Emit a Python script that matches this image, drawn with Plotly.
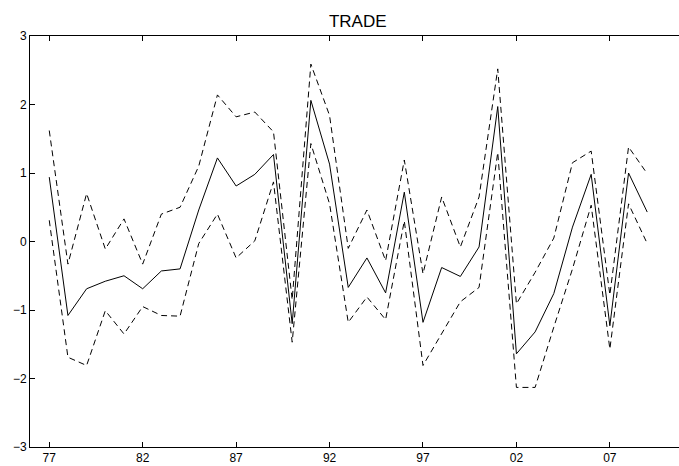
import plotly.graph_objects as go

years = list(range(77, 110))
mid = [0.94, -1.08, -0.69, -0.58, -0.50, -0.69, -0.43, -0.40, 0.46, 1.22, 0.81,
       0.98, 1.27, -1.20, 2.06, 1.13, -0.67, -0.24, -0.75, 0.72, -1.18, -0.38,
       -0.51, -0.08, 1.97, -1.64, -1.32, -0.76, 0.21, 0.98, -1.23, 1.00, 0.43]
upper = [1.62, -0.33, 0.70, -0.11, 0.33, -0.33, 0.40, 0.50, 1.10, 2.14, 1.82,
         1.89, 1.60, -0.85, 2.59, 1.84, -0.10, 0.46, -0.28, 1.19, -0.47, 0.65,
         -0.08, 0.65, 2.52, -0.91, -0.45, 0.05, 1.15, 1.32, -0.78, 1.38, 0.99]
lower = [0.31, -1.69, -1.81, -1.01, -1.35, -0.95, -1.08, -1.09, -0.03, 0.40, -0.24,
         0.01, 0.87, -1.47, 1.43, 0.55, -1.18, -0.81, -1.14, 0.30, -1.81, -1.35,
         -0.88, -0.67, 1.30, -2.13, -2.13, -1.25, -0.40, 0.53, -1.57, 0.55, -0.03]
tick_vals = [77, 82, 87, 92, 97, 102, 107]
tick_text = ["77", "82", "87", "92", "97", "02", "07"]
y_ticks = [-3, -2, -1, 0, 1, 2, 3]

fig = go.Figure()
fig.add_trace(go.Scatter(x=years, y=upper, mode="lines",
                         line=dict(color="black", width=1, dash="6px,4px")))
fig.add_trace(go.Scatter(x=years, y=lower, mode="lines",
                         line=dict(color="black", width=1, dash="6px,4px")))
fig.add_trace(go.Scatter(x=years, y=mid, mode="lines",
                         line=dict(color="black", width=1)))

fig.update_layout(
    width=679, height=466,
    margin=dict(l=30, r=0, t=36, b=19),
    paper_bgcolor="white", plot_bgcolor="white",
    showlegend=False,
    font=dict(family="Liberation Sans, Arial, sans-serif", size=12, color="black"),
    title=dict(text="TRADE", x=0.505, xanchor="center", xref="paper",
               y=1, yref="paper", yanchor="bottom", pad=dict(b=9),
               font=dict(size=17, color="black")),
)
fig.update_xaxes(range=[75.97, 110.7], tickvals=tick_vals, ticktext=tick_text,
                 ticks="inside", ticklen=5, tickcolor="black",
                 showline=True, linecolor="black", linewidth=1, mirror="ticks",
                 showgrid=False, zeroline=False)
fig.update_yaxes(range=[-3, 3], tickvals=y_ticks,
                 ticks="inside", ticklen=5, tickcolor="black",
                 showline=True, linecolor="black", linewidth=1,
                 showgrid=False, zeroline=False)

fig.write_html("out.html")
